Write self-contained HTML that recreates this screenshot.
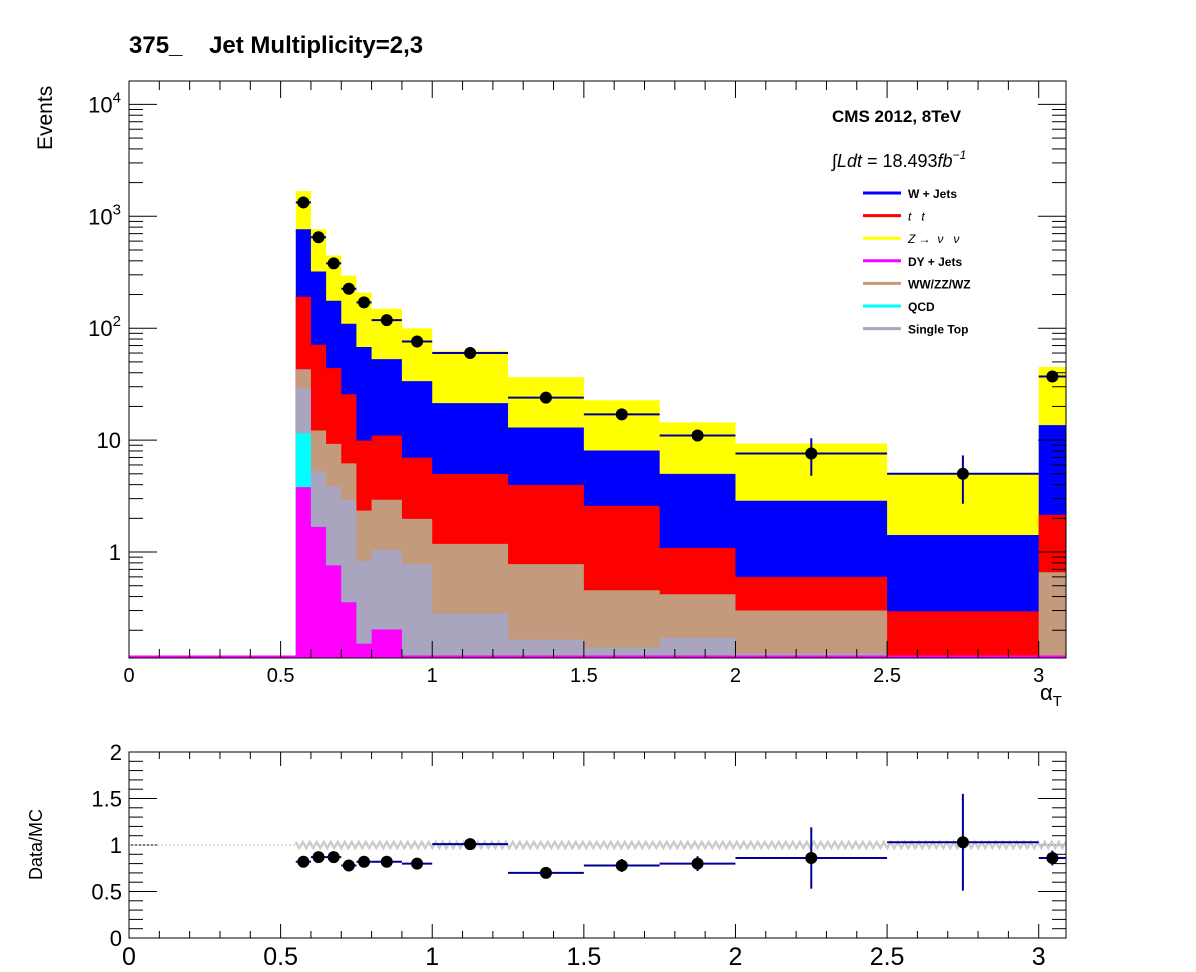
<!DOCTYPE html>
<html><head><meta charset="utf-8"><style>body{margin:0;background:#fff}svg{display:block}text{font-family:"Liberation Sans",Arial,sans-serif}</style></head>
<body>
<svg id="c" width="1196" height="972" xmlns="http://www.w3.org/2000/svg">
<text x="129" y="53" font-size="24" font-weight="bold" style="white-space:pre">375_    Jet Multiplicity=2,3</text>
<text transform="translate(52,150) rotate(-90)" font-size="21">Events</text>
<text x="832" y="122" font-size="17" font-weight="bold">CMS 2012, 8TeV</text>
<text x="832" y="167" font-size="18" font-style="italic">∫Ldt <tspan font-style="normal">= 18.493</tspan>fb<tspan dy="-8" font-size="12">−1</tspan></text>
<text x="1040" y="700" font-size="22">α<tspan dy="6" font-size="15">T</tspan></text>
<text transform="translate(42,880) rotate(-90)" font-size="18">Data/MC</text>
<g id="main"></g><g id="ratio"></g><g id="leg"></g>
</svg>
<script>
const binEdges=[0.55,0.6,0.65,0.7,0.75,0.8,0.9,1.0,1.25,1.5,1.75,2.0,2.5,3.0,3.09];
const dyJets=[3.8,1.68,0.76,0.356,0.152,0.203,0,0,0,0,0,0,0,0];
const qcd=[7.7,0,0,0,0,0,0,0,0,0,0,0,0,0];
const singleTop=[17.5,3.6,3.1,2.57,0.68,0.84,0.78,0.283,0.165,0.14,0.172,0.124,0,0];
const diboson=[14,6.9,5.4,3.27,1.51,1.89,1.2,0.9,0.615,0.316,0.248,0.176,0,0.66];
const ttbar=[148,59,34.7,19.5,7.56,8.07,5.0,3.8,3.2,2.13,0.67,0.3,0.295,1.49];
const wJets=[575,250,132,84,58,42,26.7,16.4,9,5.5,3.9,2.27,1.125,11.45];
const zNuNu=[914,445,271,185,140,96,66,41,23.6,14.6,9.4,6.47,3.58,31.4];
const dataVals=[1330,650,380,225,170,118,76,60,24,17,11,7.6,5,37];
const dataErr=[10,6,4,3,3,2,2,2,1.5,1.3,1.2,2.8,2.3,1.5];
const ratioVals=[0.82,0.87,0.87,0.78,0.82,0.82,0.80,1.01,0.70,0.78,0.80,0.86,1.03,0.86];
const ratioErr=[0.01,0.02,0.02,0.03,0.03,0.03,0.04,0.04,0.05,0.07,0.08,0.33,0.52,0.08];
const xTicks=[0,0.5,1,1.5,2,2.5,3];
const yTickLabels=["1","10","10^2","10^3","10^4"];
const ratioTicks=[0,0.5,1,1.5,2];
const series=[["dy",dyJets,"#ff00ff"],["qcd",qcd,"#00ffff"],["single-top",singleTop,"#a9a5bf"],["diboson",diboson,"#c49a7c"],["ttbar",ttbar,"#ff0000"],["w-jets",wJets,"#0000ff"],["z-nunu",zNuNu,"#ffff00"]];
const NS="http://www.w3.org/2000/svg";
const L=129,R=1066,T=81,B=658,RT=752,RB=938;
const X=v=>L+(v/3.09)*(R-L);
const ymin=Math.log10(0.113),ymax=4.209;
const Y=v=>{let l=Math.log10(Math.max(v,1e-9));l=Math.max(ymin,Math.min(ymax,l));return B-(l-ymin)/(ymax-ymin)*(B-T);};
const YR=v=>RB-(v/2)*(RB-RT);
function mk(p,tag,a,txt){const e=document.createElementNS(NS,tag);for(const k in a)e.setAttribute(k,a[k]);if(txt!==undefined)e.textContent=txt;p.appendChild(e);return e;}
const main=document.getElementById('main'),ratio=document.getElementById('ratio'),leg=document.getElementById('leg');
const n=binEdges.length-1;
const cum=new Array(n).fill(0);
const stacks=[];
series.forEach(s=>{const top=[];for(let i=0;i<n;i++){cum[i]+=s[1][i];top.push(cum[i]);}stacks.push([s[0],top,s[2]]);});
for(let k=stacks.length-1;k>=0;k--){const [nm,top,col]=stacks[k];
 let d='M'+X(binEdges[0])+','+B;
 for(let i=0;i<n;i++){d+=' L'+X(binEdges[i])+','+Y(top[i])+' L'+X(binEdges[i+1])+','+Y(top[i]);}
 d+=' L'+X(binEdges[n])+','+B+' Z';
 const p=mk(main,'path',{d:d,fill:col});
 
 }
const bl=mk(main,'line',{x1:L,x2:R,y1:B-1,y2:B-1,stroke:'#ff00ff','stroke-width':3});


for(let i=0;i<n;i++){const cx=X((binEdges[i]+binEdges[i+1])/2),cy=Y(dataVals[i]);
 const g=mk(main,'g',{});
 
 
 mk(g,'line',{x1:X(binEdges[i]),x2:X(binEdges[i+1]),y1:cy,y2:cy,stroke:'#000099','stroke-width':2});
 mk(g,'line',{x1:cx,x2:cx,y1:Y(dataVals[i]+dataErr[i]),y2:Y(dataVals[i]-dataErr[i]),stroke:'#000099','stroke-width':2});
 mk(g,'circle',{cx:cx,cy:cy,r:6,fill:'#000'});}
function frame(t,b,nm){const r=mk(document.getElementById('c'),'rect',{x:L,y:t,width:R-L,height:b-t,fill:'none',stroke:'#000','stroke-width':1});
 
 }
frame(T,B,'main-frame');frame(RT,RB,'ratio-frame');
const ax=mk(main,'g',{stroke:'#000','stroke-width':1});


for(let k=0;k<=30;k++){const v=k/10,x=X(v),maj=k%5===0;
 const h=maj?17:9;
 mk(ax,'line',{x1:x,x2:x,y1:B,y2:B-h});mk(ax,'line',{x1:x,x2:x,y1:T,y2:T+h});
 mk(ax,'line',{x1:x,x2:x,y1:RB,y2:RB-(maj?14:7)});mk(ax,'line',{x1:x,x2:x,y1:RT,y2:RT+(maj?14:7)});}
xTicks.forEach(v=>{const t=mk(main,'text',{x:X(v),y:682,'font-size':20,'text-anchor':'middle'},String(v));
 
 
 const t2=mk(ratio,'text',{x:X(v),y:965,'font-size':25,'text-anchor':'middle'},String(v));
 
 });
for(let e=-1;e<=4;e++){for(let m=1;m<=9;m++){const v=m*Math.pow(10,e);const l=Math.log10(v);if(l<ymin||l>ymax)continue;const y=Y(v),h=m===1?28:14;
 mk(ax,'line',{x1:L,x2:L+h,y1:y,y2:y});mk(ax,'line',{x1:R,x2:R-h,y1:y,y2:y});}}
yTickLabels.forEach((s,i)=>{const y=Y(Math.pow(10,i));let t;
 if(i<2)t=mk(main,'text',{x:121,y:y+8,'font-size':22,'text-anchor':'end'},s);
 else{t=mk(main,'text',{x:121,y:y+8,'font-size':22,'text-anchor':'end'});mk(t,'tspan',{},'10');mk(t,'tspan',{dy:-10,'font-size':15},s.split('^')[1]);}
 
 });
for(let k=0;k<=20;k++){const y=YR(k/10),h=k%5===0?28:14;mk(ax,'line',{x1:L,x2:L+h,y1:y,y2:y});mk(ax,'line',{x1:R,x2:R-h,y1:y,y2:y});}
ratioTicks.forEach(v=>{const t=mk(ratio,'text',{x:122,y:YR(v)+8,'font-size':22,'text-anchor':'end'},String(v));
 
 });
const dl=mk(ratio,'line',{x1:L,x2:X(binEdges[0]),y1:YR(1),y2:YR(1),stroke:'#bbb','stroke-dasharray':'2,2'});


let zz='';for(let x=X(binEdges[0]),j=0;x<=R;x+=3.5,j++){zz+=(j?' L':'M')+x+','+(YR(1)+(j%2?3:-3));}
const band=mk(ratio,'path',{d:zz,fill:'none',stroke:'#cccccc','stroke-width':2.5});


for(let i=0;i<n;i++){const cx=X((binEdges[i]+binEdges[i+1])/2),cy=YR(ratioVals[i]);
 const g=mk(ratio,'g',{});
 
 
 mk(g,'line',{x1:X(binEdges[i]),x2:X(binEdges[i+1]),y1:cy,y2:cy,stroke:'#000099','stroke-width':2});
 mk(g,'line',{x1:cx,x2:cx,y1:YR(ratioVals[i]+ratioErr[i]),y2:YR(ratioVals[i]-ratioErr[i]),stroke:'#000099','stroke-width':2});
 mk(g,'circle',{cx:cx,cy:cy,r:6,fill:'#000'});}
const legNames=["W + Jets","t   t","Z →  ν   ν","DY + Jets","WW/ZZ/WZ","QCD","Single Top"];
const legCols=["#0000ff","#ff0000","#ffff00","#ff00ff","#c49a7c","#00ffff","#a9a5bf"];
legNames.forEach((s,i)=>{const y=193+i*22.6;
 const g=mk(leg,'g',{});
 
 
 mk(g,'line',{x1:863,x2:901,y1:y,y2:y,stroke:legCols[i],'stroke-width':3});
 mk(g,'text',{x:908,y:y+5,'font-size':12,style:'white-space:pre','font-weight':(i==1||i==2)?'normal':'bold','font-style':(i==1||i==2)?'italic':'normal'},s);});
</script>
</body></html>
